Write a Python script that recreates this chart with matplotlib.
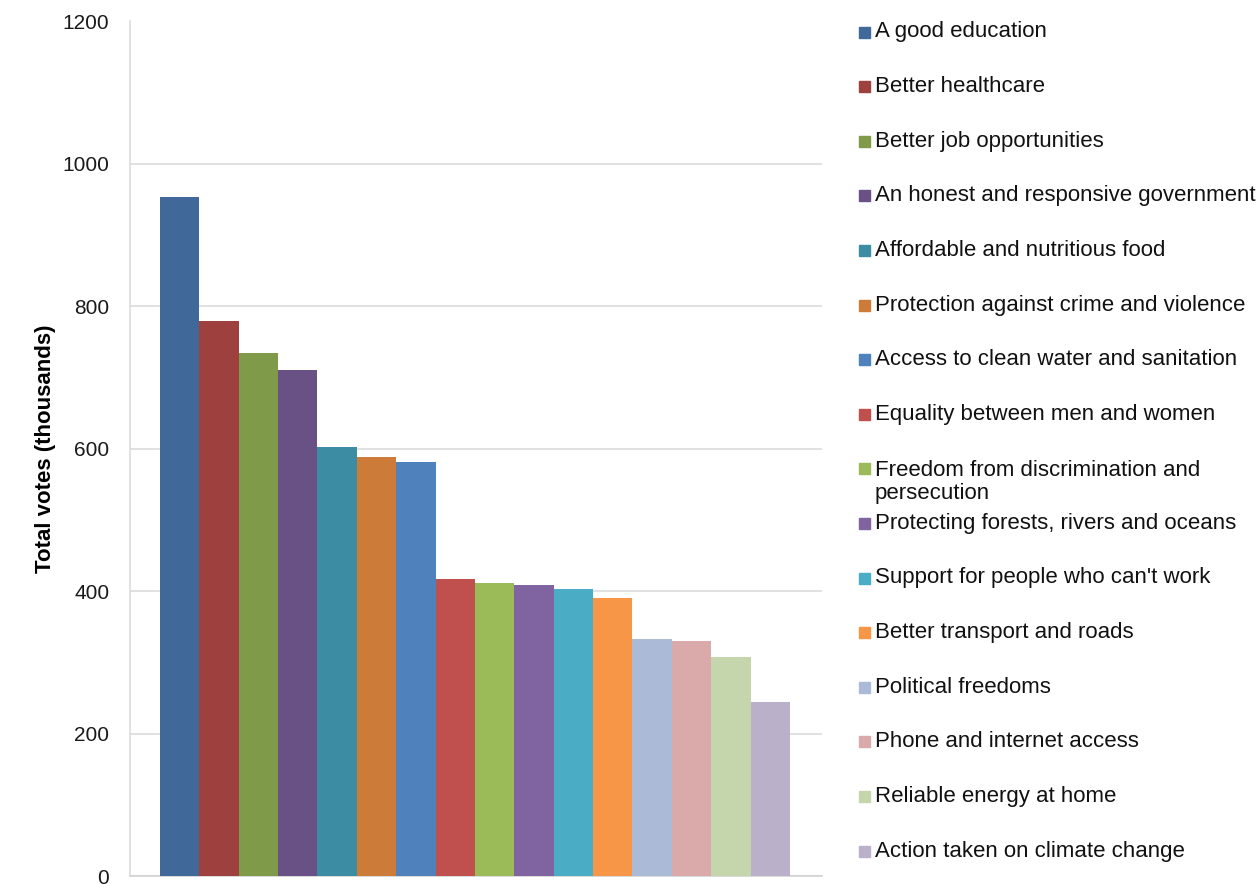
import numpy as np
import matplotlib
matplotlib.use('Agg')
from matplotlib import pyplot as plt
from matplotlib.patches import Rectangle

plt.rcParams['font.family'] = ['Liberation Sans', 'DejaVu Sans']

labels = ['A good education', 'Better healthcare', 'Better job opportunities',
          'An honest and responsive government', 'Affordable and nutritious food',
          'Protection against crime and violence', 'Access to clean water and sanitation',
          'Equality between men and women', 'Freedom from discrimination and\npersecution',
          'Protecting forests, rivers and oceans', "Support for people who can't work",
          'Better transport and roads', 'Political freedoms', 'Phone and internet access',
          'Reliable energy at home', 'Action taken on climate change']
votes = [954, 780, 734, 711, 603, 588, 581, 417, 411, 409, 403, 391, 333, 330, 307, 244]
colors = ['#40699A', '#9E413E', '#7F9A48', '#695185', '#3C8DA3', '#CC7B38', '#4F81BD',
          '#C0504D', '#9BBB59', '#8064A2', '#4BACC6', '#F79646', '#AABAD7', '#D9AAA9',
          '#C6D6AC', '#BAB0C9']

W, H = 1259, 884
fig = plt.figure(figsize=(W / 100, H / 100), dpi=100)
ax = fig.add_axes([130 / W, 1 - 876 / H, (822 - 130) / W, (876 - 21.5) / H])

x = np.arange(len(votes))
ax.bar(x, votes, width=1.0, color=colors, zorder=3)

ax.set_ylim(0, 1200)
ax.set_xlim(-1.262, 16.313)
ax.set_yticks(range(0, 1201, 200))
ax.set_xticks([])
ax.grid(axis='y', color='#D9D9D9', linewidth=1.1, zorder=0)
ax.tick_params(axis='y', length=0, pad=15, labelsize=15, labelcolor='#1a1a1a')
for s in ['top', 'right']:
    ax.spines[s].set_visible(False)
ax.spines['left'].set_color('#D9D9D9')
ax.spines['bottom'].set_color('#D0D0D0')
ax.spines['left'].set_linewidth(1.1)
ax.spines['bottom'].set_linewidth(1.1)

ax.set_ylabel('Total votes (thousands)', fontsize=16, fontweight='bold')
ax.yaxis.set_label_coords((56 - 130) / 692, 0.5)

# legend drawn by hand so the two-line entry keeps the same slot height
for i, (lab, c) in enumerate(zip(labels, colors)):
    yc = 32 + 54.6 * i
    fig.add_artist(Rectangle(((859) / W, 1 - (yc + 5.5) / H), 11 / W, 11 / H,
                             transform=fig.transFigure, color=c))
    ty = yc + 13 if '\n' in lab else yc
    fig.text(875 / W, 1 - ty / H, lab, fontsize=16, va='center', ha='left',
             color='#111111', linespacing=1.15)

plt.savefig('out.png', dpi=100)
